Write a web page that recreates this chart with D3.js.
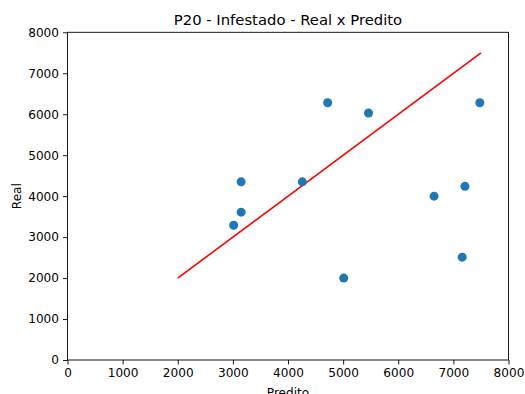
<!DOCTYPE html>
<html>
<head>
<meta charset="utf-8">
<script src="https://cdn.jsdelivr.net/npm/d3@7"></script>
<style>
body { margin: 0; background: #fff; }
text { font-family: "DejaVu Sans", sans-serif; }
</style>
</head>
<body>
<div id="chart"></div>
<script>
// valores
var predito = [4720, 5460, 7480, 3150, 4260, 3150, 3015, 6650, 7210, 7160, 5010];
var real    = [6280, 6030, 6280, 4350, 4350, 3610, 3290, 4000, 4240, 2510, 2000];
var linha = [2000, 7500];
var ticks = [0, 1000, 2000, 3000, 4000, 5000, 6000, 7000, 8000];

var svgWidth = 525, svgHeight = 394;
var plotLeft = 67.5, plotRight = 508.5, plotTop = 32.3, plotBottom = 360;

var svg = d3.select("#chart").append("svg")
    .attr("width", svgWidth)
    .attr("height", svgHeight);

var xScale = d3.scaleLinear().domain([0, 8000]).range([plotLeft, plotRight]);
var yScale = d3.scaleLinear().domain([0, 8000]).range([plotBottom, plotTop]);

var xAxis = svg.append("g")
    .attr("transform", "translate(0," + plotBottom + ")")
    .call(d3.axisBottom(xScale).tickValues(ticks).tickFormat(d3.format("d")).tickSize(4.5).tickPadding(4));
var yAxis = svg.append("g")
    .attr("transform", "translate(" + plotLeft + ",0)")
    .call(d3.axisLeft(yScale).tickValues(ticks).tickFormat(d3.format("d")).tickSize(4.5).tickPadding(4));

[xAxis, yAxis].forEach(function(a) {
    a.select(".domain").remove();
    a.selectAll("line").attr("stroke", "#000").attr("stroke-width", 0.9);
    a.selectAll("text").attr("font-size", "12.1px").attr("fill", "#000")
        .attr("font-family", "DejaVu Sans, sans-serif");
});

svg.append("rect")
    .attr("x", plotLeft).attr("y", plotTop)
    .attr("width", plotRight - plotLeft).attr("height", plotBottom - plotTop)
    .attr("fill", "none").attr("stroke", "#000").attr("stroke-width", 0.9);

svg.append("line")
    .attr("x1", xScale(linha[0])).attr("y1", yScale(linha[0]))
    .attr("x2", xScale(linha[1])).attr("y2", yScale(linha[1]))
    .attr("stroke", "#ff0000").attr("stroke-width", 1.6);

svg.selectAll("circle")
    .data(predito)
    .enter()
    .append("circle")
    .attr("cx", function(d) { return xScale(d); })
    .attr("cy", function(d, i) { return yScale(real[i]); })
    .attr("r", 4.5)
    .attr("fill", "#1f77b4");

svg.append("text")
    .attr("x", (plotLeft + plotRight) / 2).attr("y", 25)
    .attr("text-anchor", "middle")
    .attr("font-size", "14.8px")
    .text("P20 - Infestado - Real x Predito");

svg.append("text")
    .attr("x", (plotLeft + plotRight) / 2).attr("y", 397)
    .attr("text-anchor", "middle")
    .attr("font-size", "12.1px")
    .text("Predito");

svg.append("text")
    .attr("transform", "translate(21," + ((plotTop + plotBottom) / 2) + ") rotate(-90)")
    .attr("text-anchor", "middle")
    .attr("font-size", "12.1px")
    .text("Real");
</script>
</body>
</html>
